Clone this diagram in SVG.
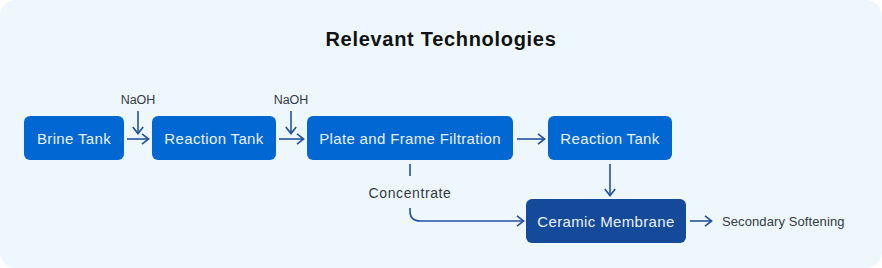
<svg xmlns="http://www.w3.org/2000/svg" width="882" height="268" viewBox="0 0 882 268">
<style>
.node{fill:#0067D3;}
.dark{fill:#15499A;}
.nt{font-family:"Liberation Sans",Arial,sans-serif;font-size:15px;letter-spacing:0.35px;fill:#EAF2FF;text-anchor:middle;}
.lbl{font-family:"Liberation Sans",Arial,sans-serif;fill:#333A44;}
.c{fill:none;stroke:#2452A2;stroke-width:1.6;}
</style>
<defs>
<marker id="ah" viewBox="0 0 10 12" refX="9" refY="6" markerWidth="10" markerHeight="12" markerUnits="userSpaceOnUse" orient="auto">
<path d="M2,0.8 L8.6,6 L2,11.2" fill="none" stroke="#2452A2" stroke-width="1.6"/>
</marker>
</defs>
<rect x="0" y="0" width="882" height="268" rx="16" fill="#EEF7FE"/>
<text x="441" y="46" text-anchor="middle" font-family="Liberation Sans,Arial,sans-serif" font-weight="bold" font-size="20" letter-spacing="0.7" fill="#111111">Relevant Technologies</text>
<g id="connectors">
<path class="c" d="M127,139 H149" marker-end="url(#ah)"/>
<path class="c" d="M138,111 V134" marker-end="url(#ah)"/>
<path class="c" d="M279,139 H304" marker-end="url(#ah)"/>
<path class="c" d="M291,111 V134" marker-end="url(#ah)"/>
<path class="c" d="M517,139 H545" marker-end="url(#ah)"/>
<path class="c" d="M610,164 V196" marker-end="url(#ah)"/>
<path class="c" d="M410,164 V176"/>
<path class="c" d="M410,208 V211 Q410,221 420,221 H524" marker-end="url(#ah)"/>
<path class="c" d="M690,221 H712" marker-end="url(#ah)"/>
<text class="lbl" x="138" y="103.5" font-size="12.5" text-anchor="middle">NaOH</text>
<text class="lbl" x="291" y="103.5" font-size="12.5" text-anchor="middle">NaOH</text>
<text class="lbl" x="410" y="198" font-size="14" letter-spacing="0.6" text-anchor="middle">Concentrate</text>
<text class="lbl" x="722" y="226" font-size="13" letter-spacing="0.1">Secondary Softening</text>
</g>
<g id="brine-tank">
<rect class="node" x="24" y="116" width="100" height="44" rx="6"/>
<text class="nt" x="74" y="143.5">Brine Tank</text>
</g>
<g id="reaction-tank-1">
<rect class="node" x="152" y="116" width="124" height="44" rx="6"/>
<text class="nt" x="214" y="143.5">Reaction Tank</text>
</g>
<g id="plate-frame-filtration">
<rect class="node" x="307" y="116" width="206" height="44" rx="6"/>
<text class="nt" x="410" y="143.5">Plate and Frame Filtration</text>
</g>
<g id="reaction-tank-2">
<rect class="node" x="548" y="116" width="124" height="44" rx="6"/>
<text class="nt" x="610" y="143.5">Reaction Tank</text>
</g>
<g id="ceramic-membrane">
<rect class="dark" x="526" y="199" width="160" height="44" rx="6"/>
<text class="nt" x="606" y="226.5">Ceramic Membrane</text>
</g>
</svg>
